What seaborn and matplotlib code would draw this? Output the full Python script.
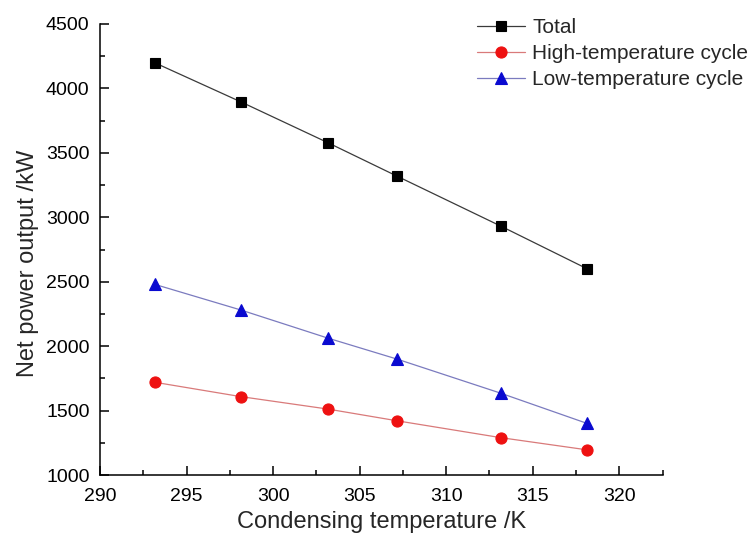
import matplotlib
matplotlib.use("Agg")
import matplotlib.pyplot as plt
from matplotlib.ticker import MultipleLocator
import seaborn as sns
import pandas as pd

# ---- data ----
temps = [293.15, 298.15, 303.15, 307.15, 313.15, 318.15]
total = [4200, 3895, 3580, 3320, 2932, 2600]
high_cycle = [1720, 1608, 1512, 1421, 1290, 1195]
low_cycle = [2480, 2280, 2063, 1900, 1635, 1400]
series_names = ["Total", "High-temperature cycle", "Low-temperature cycle"]

sns.set_style("ticks")
plt.rcParams["font.family"] = ["Liberation Sans", "DejaVu Sans"]

fig = plt.figure(figsize=(7.54, 5.43), dpi=100)
ax = fig.add_axes([100 / 754, 1 - 475 / 543, 562.5 / 754, 451 / 543])

styles = [
    dict(values=total, line="#3a3a3a", face="#000000", marker="s", ms=7.0),
    dict(values=high_cycle, line="#d97a7a", face="#ee1111", marker="o", ms=8.0),
    dict(values=low_cycle, line="#7b7bbf", face="#0a0ad0", marker="^", ms=8.5),
]

for name, st in zip(series_names, styles):
    df = pd.DataFrame({"T": temps, "P": st["values"]})
    sns.lineplot(data=df, x="T", y="P", ax=ax, color=st["line"], linewidth=0.9,
                 marker=st["marker"], markersize=st["ms"],
                 markerfacecolor=st["face"], markeredgecolor=st["face"],
                 markeredgewidth=0.8, label=name)

ax.set_xlim(290, 322.5)
ax.set_ylim(1000, 4500)
ax.xaxis.set_major_locator(MultipleLocator(5))
ax.xaxis.set_minor_locator(MultipleLocator(2.5))
ax.yaxis.set_major_locator(MultipleLocator(500))
ax.yaxis.set_minor_locator(MultipleLocator(250))

for s in ["top", "right"]:
    ax.spines[s].set_visible(False)
for s in ["left", "bottom"]:
    ax.spines[s].set_linewidth(1.1)
    ax.spines[s].set_color("black")

ax.tick_params(which="major", direction="in", length=6.5, width=1.1,
               labelsize=14, colors="black")
ax.tick_params(which="minor", direction="in", length=3.5, width=1.1, colors="black")
ax.tick_params(axis="x", which="major", pad=9.5)
ax.tick_params(axis="y", which="major", pad=7.5)

ax.set_xlabel("Condensing temperature /K", fontsize=17, labelpad=4.5)
ax.set_ylabel("Net power output /kW", fontsize=17)
ax.yaxis.set_label_coords(-0.108, 0.469)

leg = ax.legend(loc="upper left", bbox_to_anchor=(477 / 754, 1 - 18 / 543),
                bbox_transform=fig.transFigure, frameon=False, fontsize=15,
                handlelength=2.3, handletextpad=0.35, labelspacing=0.34,
                borderpad=0, borderaxespad=0)

fig.savefig("out.png", dpi=100)
